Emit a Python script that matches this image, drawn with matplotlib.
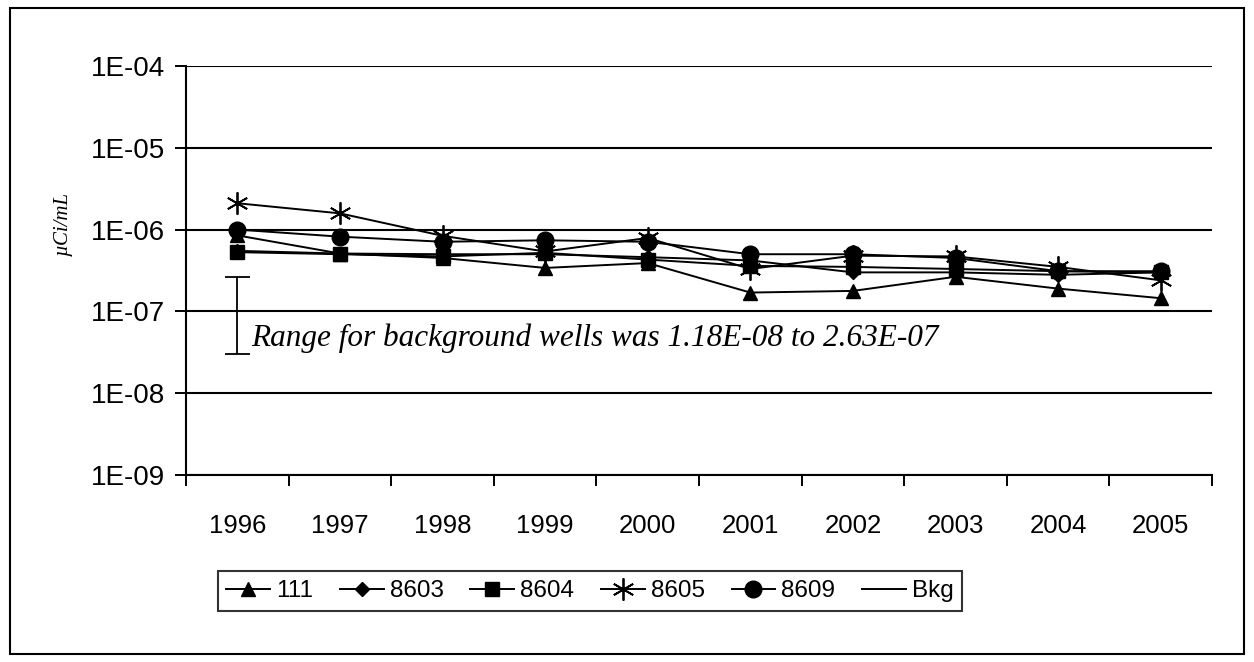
import matplotlib
matplotlib.use("Agg")
import matplotlib.pyplot as plt
from matplotlib.patches import Rectangle
import numpy as np

years = ["1996", "1997", "1998", "1999", "2000", "2001", "2002", "2003", "2004", "2005"]
s111 = [8.5e-7, 5.1e-7, 4.5e-7, 3.4e-7, 3.9e-7, 1.7e-7, 1.78e-7, 2.65e-7, 1.9e-7, 1.45e-7]
s8603 = [5.5e-7, 5.1e-7, 5.0e-7, 5.0e-7, 4.6e-7, 4.2e-7, 3.0e-7, 3.0e-7, 2.8e-7, 3.0e-7]
s8604 = [5.3e-7, 5.0e-7, 4.7e-7, 5.2e-7, 4.3e-7, 3.6e-7, 3.5e-7, 3.3e-7, 3.1e-7, 3.0e-7]
s8605 = [2.1e-6, 1.58e-6, 8.4e-7, 5.4e-7, 7.9e-7, 3.3e-7, 4.8e-7, 4.7e-7, 3.5e-7, 2.4e-7]
s8609 = [1.0e-6, 8.2e-7, 7.1e-7, 7.4e-7, 7.1e-7, 5.0e-7, 5.0e-7, 4.5e-7, 3.1e-7, 3.1e-7]
bkg_low = 3.0e-8
bkg_high = 2.63e-7
range_text = "Range for background wells was 1.18E-08 to 2.63E-07"
ytick_vals = [1e-9, 1e-8, 1e-7, 1e-6, 1e-5, 1e-4]
ytick_labels = ["1E-09", "1E-08", "1E-07", "1E-06", "1E-05", "1E-04"]

W, H = 1254, 662
fig = plt.figure(figsize=(W / 100, H / 100), dpi=100)
fig.patches.append(Rectangle((10 / W, 8 / H), 1234 / W, 646 / H, transform=fig.transFigure,
                             fill=False, edgecolor="black", linewidth=1.5))
ax = fig.add_axes([186 / W, 1 - 475 / H, 1026 / W, 409 / H])

x = np.arange(len(years))
lw = 1.4
h1, = ax.plot(x, s111, color="black", lw=lw, marker="^", ms=10, label="111")
h2, = ax.plot(x, s8603, color="black", lw=lw, marker="D", ms=7.5, label="8603")
h3, = ax.plot(x, s8604, color="black", lw=lw, marker="s", ms=9.5, label="8604")
h4, = ax.plot(x, s8605, color="black", lw=lw, marker=(6, 2, 0), ms=16, mew=1.3, label="8605")
h5, = ax.plot(x, s8609, color="black", lw=lw, marker="o", ms=12, label="8609")

ax.errorbar([0], [bkg_high], yerr=[[bkg_high - bkg_low], [0]], fmt="none",
            ecolor="black", elinewidth=1.3, capsize=9, capthick=1.3)
h6, = ax.plot([], [], color="black", lw=lw, label="Bkg")

ax.text(0.14, 10 ** (-7 - 35 / 81.8), range_text, fontsize=22.5, style="italic",
        family="Liberation Serif", va="baseline", ha="left")

ax.set_yscale("log")
ax.set_ylim(1e-9, 1e-4)
ax.set_xlim(-0.5, len(years) - 0.5)
ax.set_yticks(ytick_vals)
ax.set_yticklabels(ytick_labels, family="Liberation Sans", fontsize=20)
ax.yaxis.set_minor_locator(matplotlib.ticker.NullLocator())
ax.set_xticks(x)
ax.set_xticklabels(years, family="Liberation Sans", fontsize=18.5)
ax.set_xticks(np.arange(len(years) + 1) - 0.5, minor=True)
ax.tick_params(axis="x", which="major", length=0, pad=28)
ax.tick_params(axis="x", which="minor", length=8, width=1.4, direction="out")
ax.tick_params(axis="y", which="major", length=8, width=1.4, direction="out", pad=7)
for y in ytick_vals:
    ax.axhline(y, color="black", lw=1.5, zorder=0.5)
ax.spines["top"].set_visible(False)
ax.spines["right"].set_visible(False)
ax.spines["left"].set_linewidth(1.5)
ax.spines["bottom"].set_linewidth(1.5)

fig.text(63 / W, 1 - 224 / H, "µCi/mL", family="Liberation Serif", style="italic",
         fontsize=15, rotation=90, ha="center", va="center")

leg = fig.legend(handles=[h1, h2, h3, h4, h5, h6], loc="center",
                 bbox_to_anchor=(590 / W, 1 - 591 / H),
                 ncol=6, frameon=True, fancybox=False, edgecolor="black",
                 prop={"family": "Liberation Sans", "size": 17.5},
                 handlelength=1.8, handletextpad=0.25, columnspacing=1.1, borderpad=0.35,
                 borderaxespad=0)
leg.get_frame().set_linewidth(1.5)
fig.savefig("out.png", dpi=100)
